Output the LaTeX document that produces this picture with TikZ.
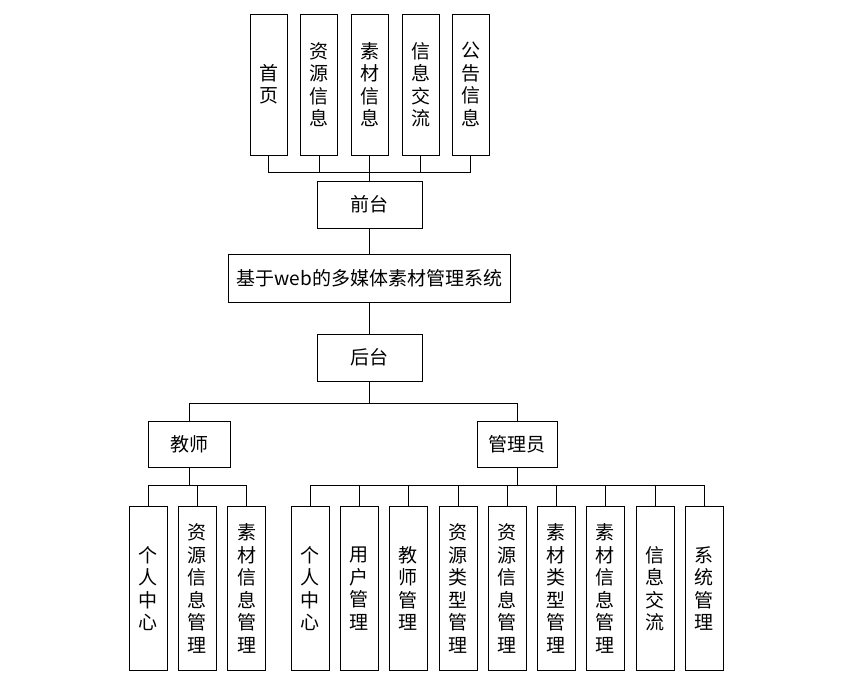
\documentclass[tikz,border=0pt]{standalone}
\usepackage{fontspec}
\newfontfamily\cjk{Noto Sans CJK SC}

\tikzset{
  box/.style={draw, line width=1pt, inner sep=0pt, align=center,
    font=\cjk\fontsize{19}{22.5}\selectfont},
  leaf/.style={box, minimum width=37, minimum height=141},
  lowleaf/.style={box, minimum width=38, minimum height=164},
  link/.style={line width=1pt}
}

\begin{document}
\begin{tikzpicture}[x=1pt,y=-1pt]
    \useasboundingbox (0,0) rectangle (859,694);

    % Front pages
    \node[leaf] (f1) at (268.5,84.5) {首\\页};
    \node[leaf] (f2) at (319,84.5) {资\\源\\信\\息};
    \node[leaf] (f3) at (369.5,84.5) {素\\材\\信\\息};
    \node[leaf] (f4) at (420.5,84.5) {信\\息\\交\\流};
    \node[leaf] (f5) at (470.5,84.5) {公\\告\\信\\息};

    % Main boxes
    \node[box, minimum width=105, minimum height=47] (front) at (369.5,204.5) {前台};
    \node[box, minimum width=282, minimum height=48] (sys) at (369.5,278) {基于web的多媒体素材管理系统};
    \node[box, minimum width=105, minimum height=47] (back) at (369.5,357.5) {后台};
    \node[box, minimum width=82, minimum height=46] (teacher) at (189,444) {教师};
    \node[box, minimum width=80, minimum height=46] (admin) at (517,444) {管理员};

    % Teacher pages
    \node[lowleaf] (t1) at (148,588.5) {个\\人\\中\\心};
    \node[lowleaf] (t2) at (197,588.5) {资\\源\\信\\息\\管\\理};
    \node[lowleaf] (t3) at (246.5,588.5) {素\\材\\信\\息\\管\\理};

    % Admin pages
    \node[lowleaf] (a1) at (310,588.5) {个\\人\\中\\心};
    \node[lowleaf] (a2) at (359,588.5) {用\\户\\管\\理};
    \node[lowleaf] (a3) at (408,588.5) {教\\师\\管\\理};
    \node[lowleaf] (a4) at (458,588.5) {资\\源\\类\\型\\管\\理};
    \node[lowleaf] (a5) at (507,588.5) {资\\源\\信\\息\\管\\理};
    \node[lowleaf] (a6) at (556,588.5) {素\\材\\类\\型\\管\\理};
    \node[lowleaf] (a7) at (605,588.5) {素\\材\\信\\息\\管\\理};
    \node[lowleaf] (a8) at (655,588.5) {信\\息\\交\\流};
    \node[lowleaf] (a9) at (704,588.5) {系\\统\\管\\理};

    % Bus points
    \coordinate (busf) at (369.5,172);
    \coordinate (busb) at (369.5,403);
    \coordinate (bust) at (189,485);
    \coordinate (busa) at (517,485);

    % Lines
    \draw[link] (f1.south) |- (busf);
    \draw[link] (f2.south) |- (busf);
    \draw[link] (f3.south) -- (busf);
    \draw[link] (f4.south) |- (busf);
    \draw[link] (f5.south) |- (busf);
    \draw[link] (busf) -- (front.north);
    \draw[link] (front.south) -- (sys.north);
    \draw[link] (sys.south) -- (back.north);
    \draw[link] (back.south) -- (busb);
    \draw[link] (busb) -| (teacher.north);
    \draw[link] (busb) -| (admin.north);

    \draw[link] (teacher.south) -- (bust);
    \draw[link] (bust) -| (t1.north);
    \draw[link] (bust) -| (t2.north);
    \draw[link] (bust) -| (t3.north);

    \draw[link] (admin.south) -- (busa);
    \draw[link] (busa) -| (a1.north);
    \draw[link] (busa) -| (a2.north);
    \draw[link] (busa) -| (a3.north);
    \draw[link] (busa) -| (a4.north);
    \draw[link] (busa) -| (a5.north);
    \draw[link] (busa) -| (a6.north);
    \draw[link] (busa) -| (a7.north);
    \draw[link] (busa) -| (a8.north);
    \draw[link] (busa) -| (a9.north);

\end{tikzpicture}
\end{document}
